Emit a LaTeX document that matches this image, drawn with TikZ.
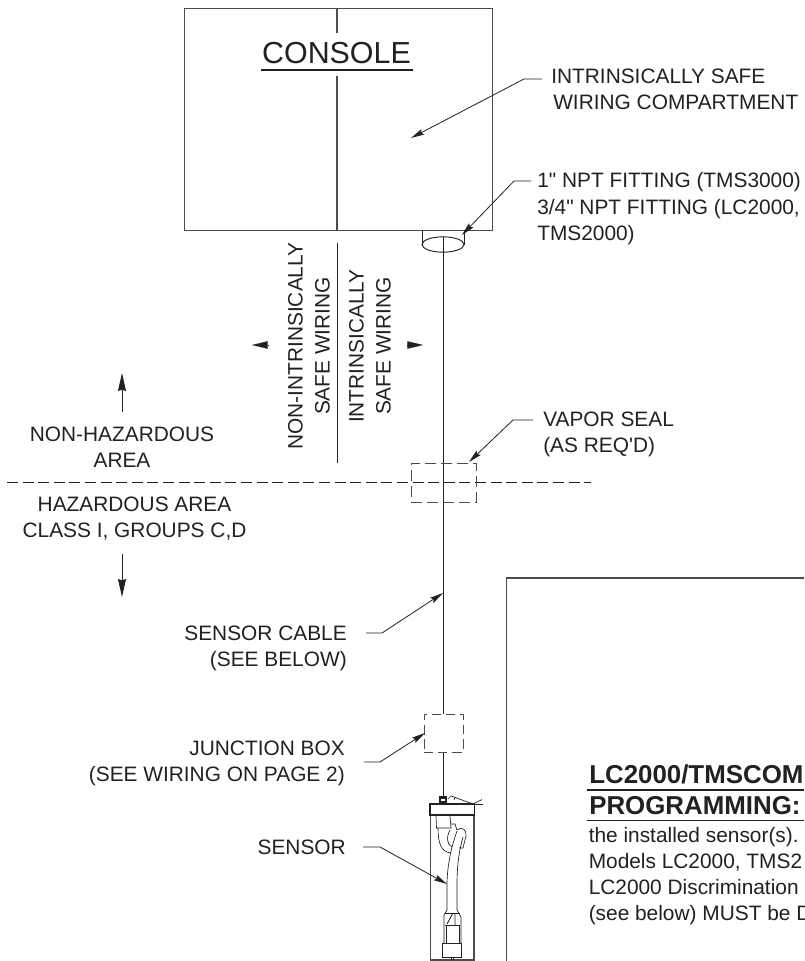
\documentclass[tikz,border=0pt]{standalone}
\usepackage{fontspec}
\setmainfont{Liberation Sans}
\setmonofont{Liberation Sans}
\usetikzlibrary{arrows.meta,shapes.geometric}
\definecolor{ink}{gray}{0.13}
\definecolor{boxink}{gray}{0.3}
\tikzset{
 heavy/.style={line width=0.95pt,draw=boxink},
 ln/.style={line width=0.7pt,draw=ink},
 fine/.style={line width=0.5pt,draw=ink},
 lead/.style={line width=0.6pt,draw=ink,-{Stealth[length=10pt,width=4.5pt,inset=1.5pt]}},
 areaarrow/.style={line width=0.7pt,draw=ink,-{Stealth[length=13.5pt,width=6pt,inset=1pt]}},
 sidearrow/.style={line width=0.1pt,draw=ink,-{Triangle[length=11.8pt,width=5.6pt]}},
 dashbox/.style={line width=0.7pt,draw=boxink,dash pattern=on 8pt off 4pt},
 lab/.style={font=\fontsize{15.65}{19.6}\selectfont,text=ink,inner sep=0pt,align=left},
 labq/.style={font=\ttfamily\fontsize{15.65}{19.6}\selectfont,text=ink,inner sep=0pt,align=left},
 labc/.style={lab,align=center},
 labe/.style={lab,align=right},
 rlab/.style={font=\fontsize{15.65}{20.2}\selectfont,text=ink,inner sep=0pt,align=center,rotate=90},
 boldlab/.style={font=\bfseries\fontsize{19.4}{22}\selectfont,text=ink,inner sep=0pt},
}
\begin{document}
\begin{tikzpicture}[x=0.75pt,y=-0.75pt]
\useasboundingbox (0,0) rectangle (804,961);
\clip (0,0) rectangle (804,961);
\fill[white] (0,0) rectangle (804,961);
% console
\node[draw,heavy,minimum width=231pt,minimum height=166.5pt,inner sep=0pt,anchor=north west] (console) at (183.5,8) {};
\coordinate (d1) at (337,8); \coordinate (d2) at (337,33);
\coordinate (d3) at (337,76); \coordinate (d4) at (337,230);
\draw[heavy] (d1) -- (d2) (d3) -- (d4);
\node[text=ink,inner sep=0pt,anchor=base,font=\fontsize{22.8}{26}\selectfont] (ctitle) at (336.5,63) {CONSOLE};
\coordinate (u1) at (261,70); \coordinate (u2) at (413,70);
\draw[line width=0.9pt,draw=ink] (u1) -- (u2);
% fitting
\node[draw,ln,ellipse,minimum width=31.5pt,minimum height=11.5pt,inner sep=0pt] (fit) at (443,244.5) {};
\coordinate (f1) at (422,230); \coordinate (f2) at (422,244.5);
\coordinate (f3) at (464,230); \coordinate (f4) at (464,244.5);
\draw[ln] (f1) -- (f2) (f3) -- (f4);
% cable
\coordinate (c1) at (443,237);
\coordinate (c2) at (443,714);
\coordinate (c3) at (443,752);
\coordinate (c4) at (443,796);
\draw[ln] (c1) -- (c2) (c3) -- (c4);
% vertical divider
\coordinate (vtop) at (337,243);
\coordinate (vbot) at (337,463);
\draw[ln] (vtop) -- (vbot);
% compartment leader
\coordinate (a1) at (542,79); \coordinate (a1b) at (524,79); \coordinate (a1e) at (411,138);
\draw[lead] (a1) -- (a1b) -- (a1e);
\node[lab,anchor=north west] (iswc) at (551,69) {INTRINSICALLY SAFE\\\hspace*{1.5pt}WIRING COMPARTMENT};
% fitting leader
\coordinate (a2) at (531,181); \coordinate (a2b) at (514,181); \coordinate (a2e) at (462,235);
\draw[lead] (a2) -- (a2b) -- (a2e);
\node[labq,anchor=north west] (npt) at (537,172.5) {1" NPT FITTING (TMS3000)\\3/4" NPT FITTING (LC2000,\\TMS2000)};
% side labels
\node[rlab] (nis) at (309,346) {NON-INTRINSICALLY\\SAFE WIRING};
\node[rlab] (is) at (370,346) {INTRINSICALLY\\SAFE WIRING};
\coordinate (la) at (268,345); \coordinate (lb) at (252,345);
\draw[sidearrow] (la) -- (lb);
\coordinate (ra) at (407,345); \coordinate (rb) at (423,345);
\draw[sidearrow] (ra) -- (rb);
\coordinate (ua) at (122,412); \coordinate (ub) at (122,373);
\draw[areaarrow] (ua) -- (ub);
\coordinate (da) at (122,554); \coordinate (db) at (122,597);
\draw[areaarrow] (da) -- (db);
\node[labc,anchor=north] (nh) at (122,427) {NON-HAZARDOUS\\AREA};
\node[labc,anchor=north] (hz) at (134.5,497) {HAZARDOUS AREA\\CLASS I, GROUPS C,D};
% hazard line
\coordinate (hl) at (7,482); \coordinate (hr) at (591,482);
\draw[line width=0.7pt,draw=ink,dash pattern=on 8.3pt off 3.4pt] (hl) -- (hr);
% vapor seal
\node[draw,dashbox,minimum width=48.75pt,minimum height=29.25pt,inner sep=0pt] (vs) at (443.5,482.5) {};
\coordinate (v1) at (533,420); \coordinate (v1b) at (513,420); \coordinate (v1e) at (469,462);
\draw[lead] (v1) -- (v1b) -- (v1e);
\node[labq,anchor=north west] (vst) at (543,412) {VAPOR SEAL\\(AS REQ'D)};
% sensor cable
\coordinate (s1) at (366,633); \coordinate (s1b) at (382,633); \coordinate (s1e) at (443,593);
\draw[lead] (s1) -- (s1b) -- (s1e);
\node[labe,anchor=north east] (sct) at (347,626) {SENSOR CABLE\\(SEE BELOW)};
% junction box
\node[draw,dashbox,dash pattern=on 7pt off 3.6pt,minimum width=29.25pt,minimum height=28.5pt,inner sep=0pt] (jb) at (443.5,733) {};
\coordinate (j1) at (364,762); \coordinate (j1b) at (380,762); \coordinate (j1e) at (425,733);
\draw[lead] (j1) -- (j1b) -- (j1e);
\node[labe,anchor=north east] (jbt) at (345,741) {JUNCTION BOX\\(SEE WIRING ON PAGE 2)};
% sensor
\node[lab,anchor=base east] (st) at (346,854) {SENSOR};
\coordinate (s2) at (363,847); \coordinate (s2b) at (380,847); \coordinate (s2e) at (447,884);
\draw[lead] (s2) -- (s2b) -- (s2e);
% sensor drawing (housing)
\draw[line width=1.2pt,draw=boxink] (430.5,815) -- (430.5,960) -- (474,960) -- (474,815);
\draw[line width=1.1pt,draw=ink,fill=white] (430,804) rectangle (474.5,815);
\draw[ln] (474,804) -- (483,804);
\fill[ink] (439,796) rectangle (447,803.5);
\fill[white] (441,798.5) rectangle (445,800.5);
\draw[fine] (448,799) -- (451,796) -- (473,804) -- (482,799.5);
\draw[fine] (455,797) -- (454,800);
% sensor drawing (upper fitting)
\draw[fine] (436,816) -- (436.5,828) -- (451,828) -- (450,816);
\draw[fine] (438,828) .. controls (438,843) and (441,852) .. (451,853);
\draw[fine] (450,830) .. controls (446,837) and (447,845) .. (452,847);
\draw[fine] (451,824) -- (455,824) -- (457,830);
\draw[fine] (457,830) .. controls (462,826) and (467,830) .. (466,836) -- (463,848) -- (459,848);
% sensor drawing (tube)
\draw[fine] (457,831) .. controls (450,850) and (447,870) .. (447,885) -- (447,910) -- (444,915) -- (444,943);
\draw[fine] (463,837) .. controls (458,855) and (457,870) .. (457,885) -- (457,910) -- (461,917) -- (461,943);
\draw[ln] (445,913) -- (460,913) (445,925) -- (460,925);
\draw[ln] (447,924) -- (453,913) (455,913) -- (455,925);
\draw[fine] (446,925) -- (446,943) (459,925) -- (459,943);
\draw[ln] (442,943) rectangle (461,957);
\draw[fine] (451,957) -- (451,960) (453,957) -- (453,960);
% note box
\coordinate (bl) at (506.5,961); \coordinate (btl) at (506.5,578); \coordinate (btr) at (804,578);
\draw[line width=1pt,draw=boxink] (bl) -- (btl) -- (btr);
\node[boldlab,anchor=base west] (t1) at (589,783) {LC2000/TMSCOM};
\coordinate (t1a) at (587,790); \coordinate (t1b) at (804,790);
\draw[line width=1pt,draw=ink] (t1a) -- (t1b);
\node[boldlab,anchor=base west] (t2) at (589,814) {PROGRAMMING:};
\coordinate (t2a) at (587,820.5); \coordinate (t2b) at (804,820.5);
\draw[line width=1pt,draw=ink] (t2a) -- (t2b);
\node[lab,anchor=north west] (body) at (588.5,827) {the installed sensor(s).\\Models LC2000, TMS2\\LC2000 Discrimination\\(see below) MUST be D};
\end{tikzpicture}
\end{document}
